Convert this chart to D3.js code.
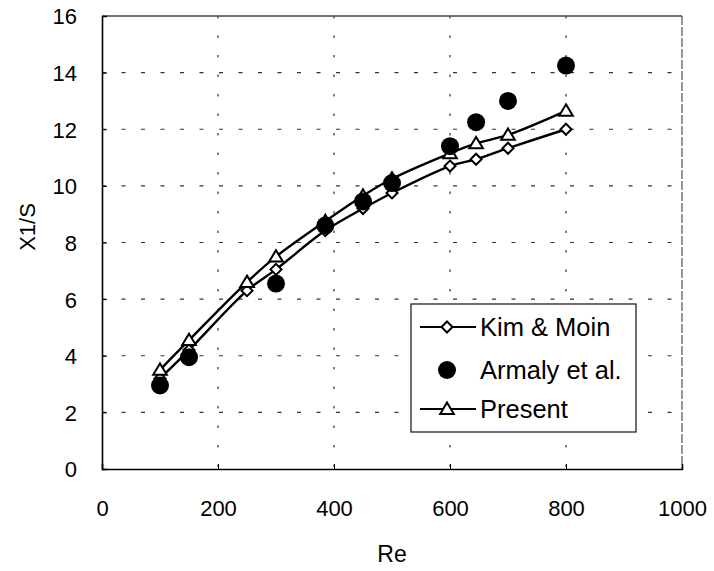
<!DOCTYPE html>
<html>
<head>
<meta charset="utf-8">
<script src="https://cdn.jsdelivr.net/npm/d3@7"></script>
<style>
  html, body { margin: 0; padding: 0; background: #fff; }
  svg { display: block; font-family: "Liberation Sans", Arial, Helvetica, sans-serif; }
</style>
</head>
<body>
<svg id="chart" width="714" height="571"></svg>
<script>
// ---- data ----
const kimRe   = [100, 150, 250, 300, 385, 450, 500, 600, 645, 700, 800];
const kimX1S  = [3.2, 4.2, 6.3, 7.05, 8.42, 9.2, 9.75, 10.7, 10.94, 11.33, 12.0];
const armRe   = [100, 150, 300, 385, 450, 500, 600, 645, 700, 800];
const armX1S  = [2.95, 3.95, 6.55, 8.6, 9.45, 10.1, 11.4, 12.25, 13.0, 14.25];
const presRe  = [100, 150, 250, 300, 385, 450, 500, 600, 645, 700, 800];
const presX1S = [3.5, 4.55, 6.6, 7.5, 8.75, 9.65, 10.25, 11.15, 11.5, 11.8, 12.65];
const xTicks = [0, 200, 400, 600, 800, 1000];
const yTicks = [0, 2, 4, 6, 8, 10, 12, 14, 16];
const legendLabels = ["Kim & Moin", "Armaly et al.", "Present"];
const xTitle = "Re";
const yTitle = "X1/S";

// ---- layout ----
const svg = d3.select("#chart");
const L = 102, R = 682, T = 16, B = 469;
const x = d3.scaleLinear().domain([0, 1000]).range([L, R]);
const y = d3.scaleLinear().domain([0, 16]).range([B, T]);

const gridColor = "#333";
// horizontal grid (dashed)
svg.append("g").selectAll("line").data(yTicks.filter(d => d > 0 && d < 16)).join("line")
  .attr("x1", L).attr("x2", R).attr("y1", d => y(d)).attr("y2", d => y(d))
  .attr("stroke", gridColor).attr("stroke-width", 1.2).attr("stroke-dasharray", "4,15.5");
// vertical grid (dotted)
svg.append("g").selectAll("line").data(xTicks.filter(d => d > 0 && d < 1000)).join("line")
  .attr("x1", d => x(d)).attr("x2", d => x(d)).attr("y1", T).attr("y2", B)
  .attr("stroke", gridColor).attr("stroke-width", 1.2).attr("stroke-dasharray", "2.5,17");

// top & right border
svg.append("line").attr("x1", L).attr("x2", R).attr("y1", T).attr("y2", T)
  .attr("stroke", "#444").attr("stroke-width", 1.3);
svg.append("line").attr("x1", R).attr("x2", R).attr("y1", T).attr("y2", B)
  .attr("stroke", "#444").attr("stroke-width", 1.1).attr("stroke-dasharray", "9,2");

// axes
const xAxis = d3.axisBottom(x).tickValues(xTicks).tickSize(-5).tickPadding(47).tickFormat(d3.format("d"));
const yAxis = d3.axisLeft(y).tickValues(yTicks).tickSize(-5).tickPadding(25).tickFormat(d3.format("d"));
const gx = svg.append("g").attr("transform", `translate(0,${B})`).call(xAxis);
const gy = svg.append("g").attr("transform", `translate(${L},0)`).call(yAxis);
[gx, gy].forEach(g => {
  g.select(".domain").attr("stroke", "#000").attr("stroke-width", 1.6);
  g.selectAll(".tick line").attr("stroke", "#000").attr("stroke-width", 1);
  g.selectAll(".tick text").attr("fill", "#000").style("font-size", "22px")
    .style("font-family", "'Liberation Sans', Arial, sans-serif");
});
gx.selectAll(".tick text").attr("dy", "0");
gy.selectAll(".tick text").attr("dy", "0.36em");

// axis titles
svg.append("text").attr("x", 392).attr("y", 562).attr("text-anchor", "middle")
  .style("font-size", "23px").text(xTitle);
svg.append("text").attr("transform", "translate(35,227) rotate(-90)").attr("text-anchor", "middle")
  .style("font-size", "22px").text(yTitle);

// ---- series ----
const kim = kimRe.map((r, i) => [r, kimX1S[i]]);
const arm = armRe.map((r, i) => [r, armX1S[i]]);
const pres = presRe.map((r, i) => [r, presX1S[i]]);

const line = d3.line().x(d => x(d[0])).y(d => y(d[1])).curve(d3.curveCatmullRom.alpha(0.5));
svg.append("path").datum(kim).attr("d", line).attr("fill", "none").attr("stroke", "#000").attr("stroke-width", 2.4);
svg.append("path").datum(pres).attr("d", line).attr("fill", "none").attr("stroke", "#000").attr("stroke-width", 2.4);

const diamond = (cx, cy, s) => `M${cx},${cy - s}L${cx + s},${cy}L${cx},${cy + s}L${cx - s},${cy}Z`;
const triangle = (cx, cy, s) => `M${cx},${cy - s}L${cx + s * 1.05},${cy + s * 0.75}L${cx - s * 1.05},${cy + s * 0.75}Z`;

function drawDiamonds(g, data) {
  g.selectAll(null).data(data).join("path")
    .attr("d", d => diamond(x(d[0]), y(d[1]), 5.5))
    .attr("fill", "#fff").attr("stroke", "#000").attr("stroke-width", 2);
}
function drawTriangles(g, data) {
  g.selectAll(null).data(data).join("path")
    .attr("d", d => triangle(x(d[0]), y(d[1]), 6.5))
    .attr("fill", "#fff").attr("stroke", "#000").attr("stroke-width", 2);
}
function drawCircles(g, data) {
  g.selectAll(null).data(data).join("circle")
    .attr("cx", d => x(d[0])).attr("cy", d => y(d[1])).attr("r", 9)
    .attr("fill", "#000");
}
drawDiamonds(svg.append("g"), kim);
drawTriangles(svg.append("g"), pres);
drawCircles(svg.append("g"), arm);

// ---- legend ----
const lg = svg.append("g");
lg.append("rect").attr("x", 411).attr("y", 304).attr("width", 225).attr("height", 128)
  .attr("fill", "#fff").attr("stroke", "#222").attr("stroke-width", 1.3);
const rows = [327, 370, 409];
lg.append("line").attr("x1", 420).attr("x2", 476).attr("y1", rows[0]).attr("y2", rows[0]).attr("stroke", "#000").attr("stroke-width", 2.2);
drawDiamonds(lg.append("g"), [[x.invert(447), y.invert(rows[0])]]);
drawCircles(lg.append("g"), [[x.invert(447), y.invert(rows[1])]]);
lg.append("line").attr("x1", 420).attr("x2", 476).attr("y1", rows[2]).attr("y2", rows[2]).attr("stroke", "#000").attr("stroke-width", 2.2);
drawTriangles(lg.append("g"), [[x.invert(447), y.invert(rows[2])]]);
lg.selectAll("text.lab").data(legendLabels).join("text").attr("class", "lab")
  .attr("x", 480).attr("y", (d, i) => rows[i]).attr("dy", "0.36em")
  .style("font-size", "25.5px").text(d => d);
</script>
</body>
</html>
